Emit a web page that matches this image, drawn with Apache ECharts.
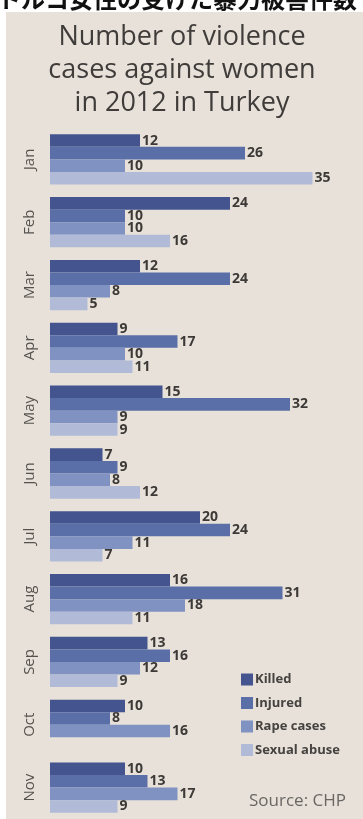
<!DOCTYPE html>
<html>
<head>
<meta charset="utf-8">
<script src="https://cdn.jsdelivr.net/npm/echarts@6/dist/echarts.min.js"></script>
<style>
html,body{margin:0;padding:0;background:#ffffff;}
#main{width:363px;height:819px;}
</style>
</head>
<body>
<div id="main"></div>
<script>
const months = ['Jan','Feb','Mar','Apr','May','Jun','Jul','Aug','Sep','Oct','Nov'];
const seriesNames = ['Killed','Injured','Rape cases','Sexual abuse'];
const killed = [12,24,12,9,15,7,20,16,13,10,10];
const injured = [26,10,24,17,32,9,24,31,16,8,13];
const rape = [10,10,8,10,9,8,11,18,12,16,17];
const sexual = [35,16,5,11,9,12,7,11,9,null,9];
const titleLines = ['Number of violence','cases against women','in 2012 in Turkey'];
const jpHeader = 'トルコ女性の受けた暴力被害件数';
const sourceText = 'Source: CHP';

const colors = ['#43548e','#5a6fa8','#8092c2','#b1bbd8'];
const values = [killed, injured, rape, sexual];

const chart = echarts.init(document.getElementById('main'));
const option = {
  animation: false,
  backgroundColor: 'transparent',
  textStyle: {fontFamily: '"Open Sans","Noto Sans",sans-serif'},
  graphic: [
    {type:'rect', z:-10, shape:{x:6,y:12,width:360,height:810}, style:{fill:'#e7e1d9'}},
    {type:'text', left:-3, top:-13, style:{text:jpHeader, font:'bold 24px "Noto Sans CJK JP"', fill:'#111'}},
    {type:'text', x:182, y:21, style:{text:titleLines.join('\n'), font:'27px "Open Sans"', lineHeight:33, fill:'#3f3c3a', align:'center', verticalAlign:'top'}},
    {type:'text', x:346, y:801, style:{text:sourceText, font:'17px "Open Sans"', fill:'#6a6763', align:'right', verticalAlign:'middle'}}
  ],
  legend: {
    data: seriesNames,
    orient: 'vertical',
    left: 236,
    top: 668,
    itemWidth: 12,
    itemHeight: 12,
    itemGap: 10.5,
    icon: 'rect',
    textStyle: {fontSize: 13, fontWeight: 'bold', color: '#45423f', padding:[0,0,0,-3]}
  },
  grid: {left: 50, right: 13, top: 128, bottom: 0, containLabel: false},
  xAxis: {type: 'value', min: 0, max: 40, show: false},
  yAxis: {
    type: 'category', data: months, inverse: true,
    axisLine: {show:false}, axisTick: {show:false},
    axisLabel: {rotate: 90, margin: 13, fontSize: 15, color: '#55514d'}
  },
  series: values.map((v,i) => ({
    name: seriesNames[i],
    type: 'bar',
    data: v,
    barGap: '0%',
    barCategoryGap: '20%',
    itemStyle: {color: colors[i]},
    label: {show: true, position: 'right', distance: 2, fontSize: 14, fontWeight: 'bold', color: '#3c3936'}
  }))
};
chart.setOption(option);
</script>
</body>
</html>
